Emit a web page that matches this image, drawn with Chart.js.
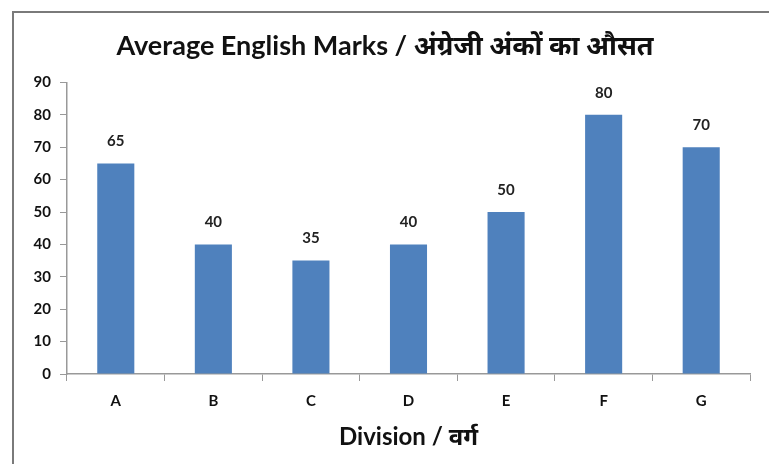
<!DOCTYPE html>
<html>
<head>
<meta charset="utf-8">
<script src="https://cdn.jsdelivr.net/npm/chart.js@4.4.0/dist/chart.umd.min.js"></script>
<style>
  html, body { margin: 0; padding: 0; background: #fff; }
  #wrap { position: relative; width: 769px; height: 464px; overflow: hidden; }
  #frame { position: absolute; left: 12px; top: 11px; width: 800px; height: 500px; border: 2px solid #7a7a7a; box-sizing: border-box; }
  canvas { position: absolute; left: 0; top: 0; }
</style>
</head>
<body>
<div id="wrap">
  <div id="frame"></div>
  <canvas id="chart" width="769" height="464"></canvas>
</div>
<script>
const divisions = ['A', 'B', 'C', 'D', 'E', 'F', 'G'];
const avgMarks = [65, 40, 35, 40, 50, 80, 70];
const yTicks = [0, 10, 20, 30, 40, 50, 60, 70, 80, 90];

const fontFam = "Lato, 'Open Sans', 'Noto Sans', sans-serif";

// value labels above each bar
const barLabels = {
  id: 'barLabels',
  afterDatasetsDraw(chart) {
    const ctx = chart.ctx;
    const meta = chart.getDatasetMeta(0);
    ctx.save();
    ctx.font = "bold 15px " + fontFam;
    ctx.fillStyle = '#222';
    ctx.textAlign = 'center';
    ctx.textBaseline = 'middle';
    meta.data.forEach((bar, i) => {
      ctx.fillText(avgMarks[i], bar.x, bar.y - 22);
    });
    ctx.restore();
  }
};

const ctx = document.getElementById('chart').getContext('2d');
window.myChart = new Chart(ctx, {
  type: 'bar',
  data: {
    labels: divisions,
    datasets: [{
      data: avgMarks,
      backgroundColor: '#4f81bd',
      borderWidth: 0,
      barPercentage: 0.38,
      categoryPercentage: 1
    }]
  },
  options: {
    responsive: false,
    animation: false,
    layout: { padding: { left: 20, right: 19, top: 0, bottom: 0 } },
    plugins: {
      legend: { display: false },
      tooltip: { enabled: false },
      title: {
        display: true,
        text: 'Average English Marks / अंग्रेजी अंकों का औसत',
        color: '#111',
        font: { family: fontFam, size: 27, weight: 'bold' },
        padding: { top: 30, bottom: 20 }
      }
    },
    scales: {
      x: {
        offset: true,
        afterFit: (scale) => { scale.height = 90; },
        grid: { display: true, drawOnChartArea: false, offset: true, tickLength: 7, color: '#999' },
        border: { color: '#999', width: 1.5 },
        ticks: { color: '#111', padding: 11, font: { family: fontFam, size: 15, weight: 'bold' } },
        title: {
          display: true,
          text: 'Division / वर्ग',
          color: '#111',
          font: { family: fontFam, size: 24, weight: 'bold' },
          padding: { top: 0, bottom: 12 }
        }
      },
      y: {
        min: 0,
        max: 90,
        afterFit: (scale) => { scale.width = 47; },
        afterBuildTicks: (scale) => { scale.ticks = yTicks.map(v => ({ value: v })); },
        grid: { display: true, drawOnChartArea: false, tickLength: 7, color: '#999' },
        border: { color: '#999', width: 1.5 },
        ticks: { color: '#111', padding: 9, font: { family: fontFam, size: 15, weight: 'bold' } }
      }
    }
  },
  plugins: [barLabels]
});
</script>
</body>
</html>
